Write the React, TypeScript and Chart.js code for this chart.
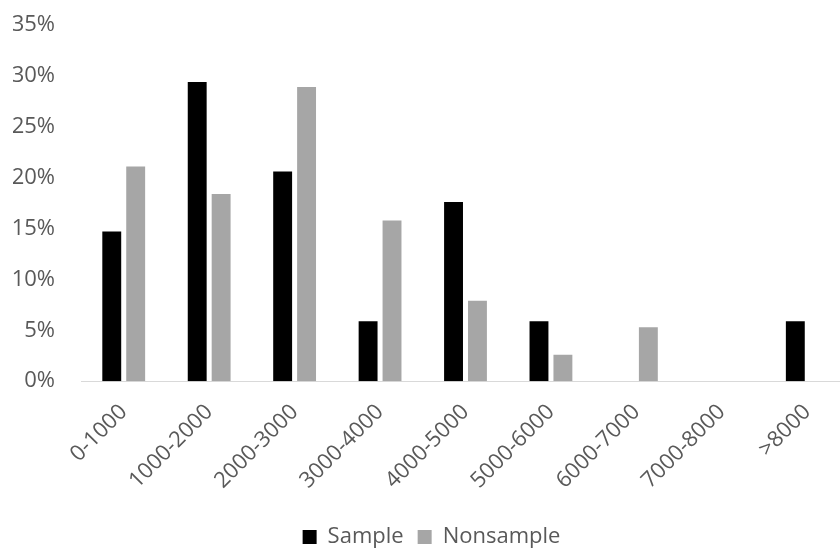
import React, { useEffect, useRef } from "react";
import { Chart, registerables } from "chart.js";

Chart.register(...registerables);

const categories = ["0-1000", "1000-2000", "2000-3000", "3000-4000", "4000-5000", "5000-6000", "6000-7000", "7000-8000", ">8000"];
const sampleValues = [14.7, 29.4, 20.6, 5.9, 17.6, 5.9, 0, 0, 5.9];
const nonsampleValues = [21.1, 18.4, 28.9, 15.8, 7.9, 2.6, 5.3, 0, 0];
const seriesNames = ["Sample", "Nonsample"];

const FONT = "'Open Sans', sans-serif";
const TEXT = "#595959";

export default function App() {
  const ref = useRef<HTMLCanvasElement | null>(null);
  useEffect(() => {
    if (!ref.current) return;
    const chart = new Chart(ref.current, {
      type: "bar",
      data: {
        labels: categories,
        datasets: [
          { label: seriesNames[0], data: sampleValues, backgroundColor: "#000000", categoryPercentage: 0.56, barPercentage: 0.79 },
          { label: seriesNames[1], data: nonsampleValues, backgroundColor: "#A6A6A6", categoryPercentage: 0.56, barPercentage: 0.79 },
        ],
      },
      options: {
        responsive: false,
        animation: false,
        layout: { padding: { left: 13, right: 2, top: 25, bottom: -10 } },
        plugins: {
          tooltip: { enabled: false },
          legend: {
            position: "bottom",
            labels: {
              color: TEXT,
              font: { family: FONT, size: 22 },
              boxWidth: 14,
              boxHeight: 14,
              padding: 14,
            },
          },
        },
        scales: {
          x: {
            grid: { display: false, drawTicks: false },
            border: { display: true, color: "#D9D9D9", width: 1 },
            ticks: {
              color: TEXT,
              font: { family: FONT, size: 22 },
              minRotation: 45,
              maxRotation: 45,
              padding: 18,
            },
            afterFit: (s: any) => {
              s.paddingLeft = 0;
              s.paddingRight = 0;
            },
          },
          y: {
            min: 0,
            max: 35,
            grid: { display: false, drawTicks: false },
            border: { display: false },
            ticks: {
              stepSize: 5,
              color: TEXT,
              font: { family: FONT, size: 22 },
              padding: 26,
              callback: (v: any) => v + "%",
            },
            afterFit: (s: any) => {
              s.paddingTop = 0;
              s.paddingBottom = 0;
              s.width = 68;
            },
          },
        },
      },
    });
    return () => chart.destroy();
  }, []);
  return (
    <div style={{ position: "fixed", left: 0, top: 0, width: 840, height: 548, overflow: "hidden", background: "#fff" }}>
      <canvas ref={ref} width={852} height={548} />
    </div>
  );
}
